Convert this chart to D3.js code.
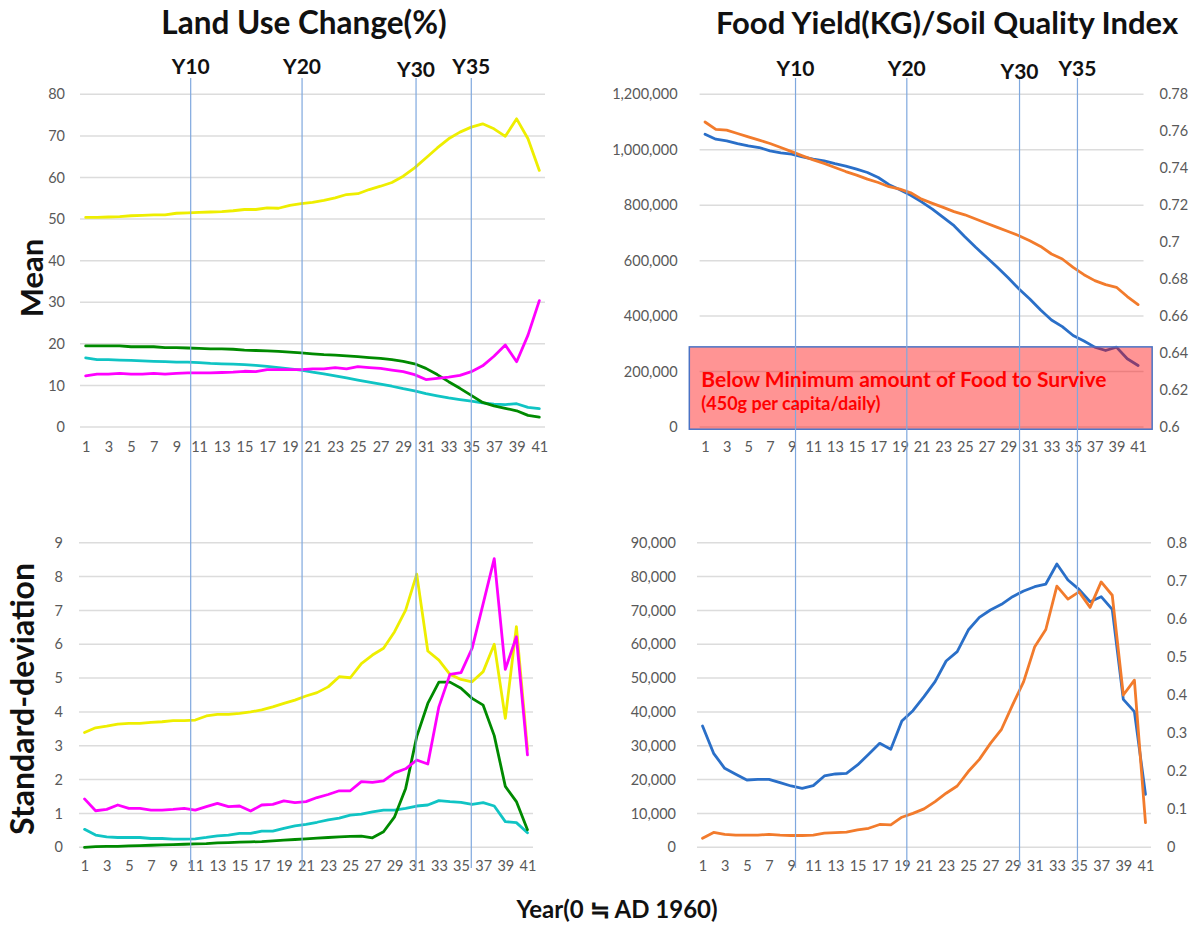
<!DOCTYPE html>
<html><head><meta charset="utf-8">
<script src="https://cdn.jsdelivr.net/npm/d3@7"></script>
<style>
body{margin:0;background:#fff}
text{font-family:Lato,"Open Sans","Noto Sans",sans-serif}
</style>
</head><body>
<svg id="chart" width="1191" height="939"></svg>
<script>
// ---------------- data ----------------
const years = d3.range(1, 42);
const xTickYears = years.filter(d => d % 2 === 1);

const meanYellow  = [50.4,50.4,50.5,50.6,50.8,50.9,51.0,51.0,51.4,51.5, 51.6,51.7,51.8,52.0,52.3,52.3,52.7,52.6,53.3,53.7, 54.0,54.5,55.1,55.9,56.1,57.1,57.9,58.8,60.3,62.3, 64.7,67.1,69.3,70.9,72.1,72.9,71.7,69.9,74.1,69.3,61.7];
const meanGreen   = [19.5,19.5,19.5,19.5,19.3,19.3,19.3,19.1,19.1,19.0, 18.9,18.8,18.8,18.7,18.5,18.4,18.3,18.2,18.0,17.8, 17.6,17.4,17.3,17.1,16.9,16.7,16.5,16.2,15.8,15.2, 14.1,12.6,10.9,9.3,7.6,5.9,5.1,4.5,3.9,2.8,2.4];
const meanCyan    = [16.6,16.2,16.2,16.1,16.0,15.9,15.8,15.7,15.6,15.6, 15.5,15.3,15.2,15.1,15.0,14.8,14.6,14.3,14.0,13.7, 13.2,12.8,12.3,11.8,11.3,10.8,10.3,9.8,9.2,8.7, 8.0,7.5,7.0,6.6,6.2,5.8,5.5,5.4,5.6,4.7,4.4];
const meanMagenta = [12.3,12.7,12.7,12.9,12.7,12.7,12.9,12.7,12.9,13.0, 13.0,13.0,13.1,13.2,13.4,13.3,13.8,13.8,13.8,13.8, 14.0,14.0,14.3,14.0,14.5,14.3,14.1,13.7,13.3,12.6, 11.4,11.7,12.0,12.4,13.3,14.7,17.0,19.7,15.7,22.1,30.4];

const sdYellow  = [3.39,3.53,3.58,3.64,3.66,3.66,3.69,3.71,3.74,3.74, 3.76,3.88,3.93,3.93,3.96,4.0,4.06,4.15,4.25,4.35, 4.47,4.57,4.74,5.04,5.01,5.43,5.68,5.88,6.37,7.01, 8.07,5.80,5.53,5.11,4.96,4.89,5.19,6.0,3.81,6.52,2.9];
const sdGreen   = [0.0,0.02,0.03,0.03,0.04,0.05,0.06,0.07,0.08,0.09, 0.10,0.11,0.13,0.14,0.15,0.16,0.17,0.19,0.21,0.23, 0.25,0.27,0.29,0.31,0.32,0.33,0.28,0.46,0.9,1.74, 3.27,4.25,4.88,4.88,4.7,4.4,4.2,3.3,1.8,1.35,0.52];
const sdCyan    = [0.53,0.36,0.31,0.29,0.29,0.29,0.26,0.26,0.24,0.24, 0.25,0.29,0.34,0.36,0.41,0.41,0.48,0.48,0.56,0.63, 0.68,0.74,0.81,0.86,0.95,0.98,1.05,1.10,1.10,1.15, 1.22,1.25,1.38,1.35,1.33,1.27,1.32,1.22,0.76,0.73,0.43];
const sdMagenta = [1.43,1.08,1.12,1.25,1.15,1.15,1.10,1.10,1.12,1.15, 1.10,1.20,1.30,1.20,1.22,1.07,1.25,1.27,1.37,1.32, 1.35,1.47,1.56,1.67,1.67,1.94,1.92,1.96,2.2,2.32, 2.58,2.46,4.15,5.11,5.16,5.88,7.2,8.53,5.26,6.22,2.73];

const foodMean = [1056000,1038000,1032000,1022000,1014000,1008000,996000,989000,984000,974000, 966000,960000,950000,941000,930000,918000,900000,874000,856000,836000, 812000,786000,756000,726000,686000,648000,612000,576000,538000,498000, 462000,422000,386000,362000,330000,310000,288000,276000,288000,246000,222000];
const soilMean = [0.765,0.761,0.7606,0.7588,0.757,0.7552,0.7534,0.7512,0.749,0.7467, 0.7445,0.7426,0.7404,0.7382,0.7363,0.7341,0.7323,0.7300,0.7287,0.7267, 0.7233,0.721,0.7188,0.7165,0.7148,0.7125,0.7102,0.708,0.7058,0.7035, 0.7008,0.6977,0.6936,0.6909,0.6864,0.6824,0.6792,0.677,0.6756,0.6706,0.6662];
const foodSD = [35840,27770,23340,21570,19890,20090,20090,19100,18120,17430, 18220,21070,21660,21860,24320,27470,30720,28950,37320,40370, 44510,48940,55050,57800,64200,67940,70110,71780,74050,75720, 77000,77790,83700,78970,76210,72570,74050,70300,43720,40080,15660];
const soilSD = [0.0236,0.039,0.034,0.032,0.032,0.032,0.034,0.032,0.031,0.031, 0.032,0.037,0.0385,0.040,0.0455,0.050,0.060,0.059,0.079,0.089, 0.101,0.120,0.142,0.161,0.199,0.231,0.273,0.310,0.374,0.435, 0.527,0.572,0.686,0.652,0.671,0.630,0.697,0.662,0.400,0.439,0.065];

const meanTicks = [0,10,20,30,40,50,60,70,80];
const sdTicks = [0,1,2,3,4,5,6,7,8,9];
const foodMeanTicks = [0,200000,400000,600000,800000,1000000,1200000];
const soilMeanTicks = [0.6,0.62,0.64,0.66,0.68,0.7,0.72,0.74,0.76,0.78];
const foodSDTicks = [0,10000,20000,30000,40000,50000,60000,70000,80000,90000];
const soilSDTicks = [0,0.1,0.2,0.3,0.4,0.5,0.6,0.7,0.8];

const markerLabels = ["Y10","Y20","Y30","Y35"];
const markerYearsLeft = [10.26, 20.08, 30.13, 35.0];
const markerYearsRight = [9.36, 19.64, 30.05, 35.4];

const boxYears = [-0.45, 42.3];
const boxFood = [-8000, 289000];
const boxLines = ["Below Minimum amount of Food to Survive", "(450g per capita/daily)"];

// ---------------- drawing ----------------
const svg = d3.select("#chart");
const C = {yellow:"#eeee00", green:"#008a00", cyan:"#10c4c4", magenta:"#ff00ff", blue:"#2a6fc8", orange:"#f27b2c"};
const tickColor = "#595959";

const panels = [
  {x:[80,545], y:[427,94.3], dom:[0,80], ticks:meanTicks, fmt:d3.format("d"), padL:15, padB:15,
   series:[[meanYellow,C.yellow],[meanCyan,C.cyan],[meanGreen,C.green],[meanMagenta,C.magenta]]},
  {x:[79,533], y:[847.3,542.7], dom:[0,9], ticks:sdTicks, fmt:d3.format("d"), padL:16, padB:13,
   series:[[sdYellow,C.yellow],[sdCyan,C.cyan],[sdGreen,C.green],[sdMagenta,C.magenta]]},
  {x:[699.6,1143.5], y:[427,94.3], dom:[0,1200000], ticks:foodMeanTicks, fmt:d3.format(","), padL:22, padB:15,
   dom2:[0.6,0.78], ticks2:soilMeanTicks, fmt2:d3.format("~g"), padR:16,
   series:[[foodMean,C.blue,1],[soilMean,C.orange,2]]},
  {x:[697,1151], y:[847.3,542.7], dom:[0,90000], ticks:foodSDTicks, fmt:d3.format(","), padL:21, padB:13,
   dom2:[0,0.8], ticks2:soilSDTicks, fmt2:d3.format("~g"), padR:16,
   series:[[foodSD,C.blue,1],[soilSD,C.orange,2]]}
];

function styleAxis(g){
  g.select(".domain").remove();
  g.selectAll("text").attr("fill", tickColor).style("font-size","14.5px").style("font-family","Lato");
}

panels.forEach(p => {
  p.xs = d3.scaleLinear().domain([0.5, 41.5]).range(p.x);
  p.ys = d3.scaleLinear().domain(p.dom).range(p.y);
  if (p.dom2) p.ys2 = d3.scaleLinear().domain(p.dom2).range(p.y);
  const g = svg.append("g");
  g.selectAll("line.grid").data(p.ticks).join("line")
    .attr("x1", p.x[0]).attr("x2", p.x[1])
    .attr("y1", d => p.ys(d)).attr("y2", d => p.ys(d))
    .attr("stroke", "#dcdcdc").attr("stroke-width", 1.5);
  g.append("g").attr("transform", `translate(${p.x[0]},0)`)
    .call(d3.axisLeft(p.ys).tickValues(p.ticks).tickSize(0).tickPadding(p.padL).tickFormat(p.fmt))
    .call(styleAxis);
  g.append("g").attr("transform", `translate(0,${p.y[0]})`)
    .call(d3.axisBottom(p.xs).tickValues(xTickYears).tickSize(0).tickPadding(p.padB).tickFormat(d3.format("d")))
    .call(styleAxis);
  if (p.dom2) {
    g.append("g").attr("transform", `translate(${p.x[1]},0)`)
      .call(d3.axisRight(p.ys2).tickValues(p.ticks2).tickSize(0).tickPadding(p.padR).tickFormat(p.fmt2))
      .call(styleAxis);
  }
  p.series.forEach(([vals, col, ax]) => {
    const ys = ax === 2 ? p.ys2 : p.ys;
    const line = d3.line().x((d,i) => p.xs(years[i])).y(d => ys(d));
    g.append("path").datum(vals).attr("d", line)
      .attr("fill","none").attr("stroke", col).attr("stroke-width", 2.8)
      .attr("stroke-linejoin","round").attr("stroke-linecap","round");
  });
});

// red "below minimum" box on the top-right panel
const tr = panels[2];
const bx0 = tr.xs(boxYears[0]), bx1 = tr.xs(boxYears[1]);
const by0 = tr.ys(boxFood[1]), by1 = tr.ys(boxFood[0]);
svg.append("rect").attr("x", bx0).attr("y", by0).attr("width", bx1 - bx0).attr("height", by1 - by0)
  .attr("fill", "#ff0000").attr("fill-opacity", 0.42)
  .attr("stroke", "#4a72c4").attr("stroke-width", 1.5);

// vertical year markers
function markers(scale, yrs, labelY) {
  yrs.forEach((v, i) => {
    svg.append("line").attr("x1", scale(v)).attr("x2", scale(v)).attr("y1", 78).attr("y2", 868)
      .attr("stroke", "#7fa8de").attr("stroke-width", 1.2);
    svg.append("text").attr("x", scale(v)).attr("y", labelY + (markerLabels[i] === "Y30" ? 3 : 0))
      .attr("text-anchor","middle").style("font-weight","bold").style("font-size","21px")
      .attr("fill","#111").text(markerLabels[i]);
  });
}
markers(panels[0].xs, markerYearsLeft, 74);
markers(tr.xs, markerYearsRight, 76);

// box text
svg.append("text").attr("x", bx0 + 12).attr("y", by0 + 40).attr("fill","#ff0000")
  .style("font-weight","bold").style("font-size","21px").text(boxLines[0]);
svg.append("text").attr("x", bx0 + 12).attr("y", by0 + 63.5).attr("fill","#ff0000")
  .style("font-weight","bold").style("font-size","18px").text(boxLines[1]);

// titles
svg.append("text").attr("x", 304).attr("y", 34).attr("text-anchor","middle")
  .style("font-weight","bold").style("font-size","31.5px").attr("fill","#111").text("Land Use Change(%)");
svg.append("text").attr("x", 947).attr("y", 34).attr("text-anchor","middle")
  .style("font-weight","bold").style("font-size","31px").attr("fill","#111").text("Food Yield(KG)/Soil Quality Index");
svg.append("text").attr("transform","translate(43,278) rotate(-90)").attr("text-anchor","middle")
  .style("font-weight","bold").style("font-size","31px").attr("fill","#111").text("Mean");
svg.append("text").attr("transform","translate(34,699) rotate(-90)").attr("text-anchor","middle")
  .style("font-weight","bold").style("font-size","32px").attr("fill","#111").text("Standard-deviation");
svg.append("text").attr("x", 617).attr("y", 918).attr("text-anchor","middle")
  .style("font-weight","bold").style("font-size","24px").attr("fill","#111").text("Year(0 ≒ AD 1960)");
</script>
</body></html>
